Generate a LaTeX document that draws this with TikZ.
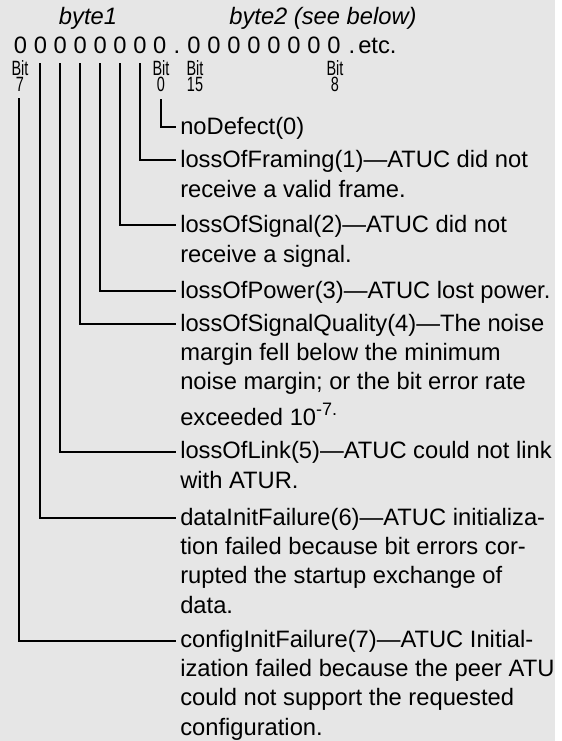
\documentclass[tikz,border=0pt]{standalone}
\usepackage{fontspec}
\setmainfont{Liberation Sans}
\newfontfamily\bitfam[FakeStretch=0.7]{Liberation Sans}
\newcommand\mainsz{\fontsize{17.8}{22}\selectfont}
\newcommand\bitsz{\bitfam\fontsize{15.5}{12.5}\selectfont}
\definecolor{panel}{RGB}{230,230,230}
\tikzset{
  lead/.style={line width=1.5pt},
  digit/.style={font=\mainsz, inner sep=0pt, anchor=base},
  bitlbl/.style={font=\bitsz, align=center, inner sep=0pt, anchor=base},
  para/.style={font=\mainsz, align=left, inner sep=0pt, anchor=base west},
  head/.style={font=\mainsz\itshape, inner sep=0pt, anchor=base}
}
\begin{document}
\begin{tikzpicture}[x=0.75pt,y=-0.75pt]
\useasboundingbox (0,0) rectangle (561,741);
\fill[panel] (0,0) rectangle (555,741);

% headings
\node[head] (h1) at (88,25) {byte1};
\node[head] (h2) at (323,25) {byte2 (see below)};

% bit string: byte1 (bits 7..0), byte2 (bits 15..8)
\foreach \i/\b in {0/7,1/6,2/5,3/4,4/3,5/2,6/1,7/0}
  \node[digit] (d\b) at (20.5+19.9*\i,54) {0};
\node[digit] (dot1) at (177,54) {.};
\foreach \i in {0,...,7}
  \node[digit] (e\i) at (194+20*\i,54) {0};
\node[digit] (dot2) at (352,54) {.};
\node[digit, anchor=base west] (etc) at (358,54) {etc.};

% bit position labels (anchored on the baseline of their last line)
\node[bitlbl] (l7) at (20,92) {Bit\\7};
\node[bitlbl] (l0) at (161,92) {Bit\\0};
\node[bitlbl] (l15) at (195,92) {Bit\\15};
\node[bitlbl] (l8) at (335,92) {Bit\\8};

% descriptions (anchored on the baseline of their last line)
\node[para] (p0) at (180,135) {noDefect(0)};
\node[para] (p1) at (180,197.3) {lossOfFraming(1)---ATUC did not\\receive a valid frame.};
\node[para] (p2) at (180,262.3) {lossOfSignal(2)---ATUC did not\\receive a signal.};
\node[para] (p3) at (180,298) {lossOfPower(3)---ATUC lost power.};
\node[para] (p4) at (180,425.7) {lossOfSignalQuality(4)---The noise\\margin fell below the minimum\\noise margin; or the bit error rate\\[5pt]exceeded 10\raisebox{8pt}{\fontsize{13.5}{13.5}\selectfont -7.}};
\node[para] (p5) at (180,488.3) {lossOfLink(5)---ATUC could not link\\with ATUR.};
\node[para] (p6) at (180,613) {dataInitFailure(6)---ATUC initializa-\\tion failed because bit errors cor-\\rupted the startup exchange of\\data.};
\node[para] (p7) at (180,735) {configInitFailure(7)---ATUC Initial-\\ization failed because the peer ATU\\could not support the requested\\configuration.};

% leader lines from each bit to the first line of its description
\draw[lead] ([yshift=-5pt]l0.south) |- ([xshift=-3pt,yshift=6pt]p0.base west);
\draw[lead] ([yshift=-6.75pt]d1.south) |- ([xshift=-3pt,yshift=28pt]p1.base west);
\draw[lead] ([yshift=-6.75pt]d2.south) |- ([xshift=-3pt,yshift=28pt]p2.base west);
\draw[lead] ([yshift=-6.75pt]d3.south) |- ([xshift=-3pt,yshift=5.25pt]p3.base west);
\draw[lead] ([yshift=-6.75pt]d4.south) |- ([xshift=-3pt,yshift=76.25pt]p4.base west);
\draw[lead] ([yshift=-6.75pt]d5.south) |- ([xshift=-3pt,yshift=27.25pt]p5.base west);
\draw[lead] ([yshift=-6.75pt]d6.south) |- ([xshift=-3pt,yshift=71.25pt]p6.base west);
\draw[lead] ([xshift=-1pt,yshift=-4.5pt]l7.south) |- ([xshift=-3pt,yshift=70.5pt]p7.base west);
\end{tikzpicture}
\end{document}
